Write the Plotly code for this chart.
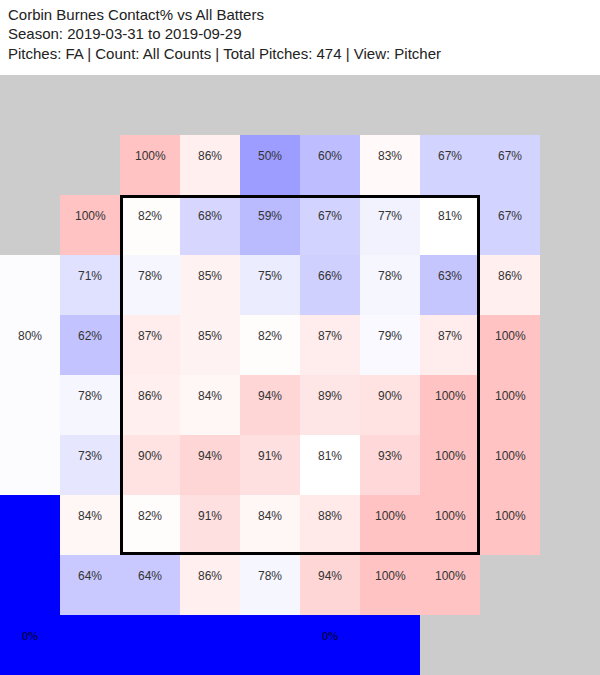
import plotly.graph_objects as go

title_lines = [
    "Corbin Burnes Contact% vs All Batters",
    "Season: 2019-03-31 to 2019-09-29",
    "Pitches: FA | Count: All Counts | Total Pitches: 474 | View: Pitcher",
]

# Zone grid: rows top->bottom, columns left->right (pitcher view); None = no data
N = None
zone_values = [
    [N, N, N, N, N, N, N, N, N, N],
    [N, N, 100, 86, 50, 60, 83, 67, 67, N],
    [N, 100, 82, 68, 59, 67, 77, 81, 67, N],
    [N, 71, 78, 85, 75, 66, 78, 63, 86, N],
    [N, 62, 87, 85, 82, 87, 79, 87, 100, N],
    [N, 78, 86, 84, 94, 89, 90, 100, 100, N],
    [N, 73, 90, 94, 91, 81, 93, 100, 100, N],
    [N, 84, 82, 91, 84, 88, 100, 100, 100, N],
    [N, 64, 64, 86, 78, 94, 100, 100, N, N],
    [N, N, N, N, N, N, N, N, N, N],
]

# Outer (out-of-zone) regions: value, cells covered, label cell
outer_regions = [
    {"value": 80, "cells": [(3, 0), (4, 0), (5, 0), (6, 0)], "label_cell": (4, 0)},
    {"value": 0, "cells": [(7, 0), (8, 0), (9, 0)], "label_cell": (9, 0)},
    {"value": 0, "cells": [(9, 1), (9, 2), (9, 3), (9, 4), (9, 5), (9, 6)], "label_cell": (9, 5)},
]

league_avg = 81.0

n_rows = len(zone_values)
n_cols = len(zone_values[0])

z = [row[:] for row in zone_values]
for reg in outer_regions:
    for (r, c) in reg["cells"]:
        z[r][c] = reg["value"]

xs = [c + 0.5 for c in range(n_cols)]
ys = [r + 0.5 for r in range(n_rows)]

fig = go.Figure()
fig.add_trace(go.Heatmap(
    z=z, x=xs, y=ys,
    zmin=0, zmax=2 * league_avg,
    colorscale=[[0, "rgb(0,0,255)"], [0.5, "rgb(255,255,255)"], [1, "rgb(255,0,0)"]],
    showscale=False, hoverinfo="skip", xgap=0, ygap=0,
))

annotations = []
for r in range(n_rows):
    for c in range(n_cols):
        v = zone_values[r][c]
        if v is None:
            continue
        annotations.append(dict(
            x=c + 0.5, y=r + 0.5, xref="x", yref="y", text=f"{v}%",
            showarrow=False, yshift=9,
            font=dict(family="Liberation Sans, Arial", size=12, color="#333"),
        ))
for reg in outer_regions:
    r, c = reg["label_cell"]
    serif = reg["value"] == 0
    annotations.append(dict(
        x=c + 0.5, y=r + 0.5, xref="x", yref="y", text=f"{reg['value']}%",
        showarrow=False, yshift=9,
        font=dict(family="Liberation Serif, Times New Roman" if serif else "Liberation Sans, Arial",
                  size=12, color="#000" if serif else "#333"),
    ))

plot_top = 75
plot_h = 600
for i, line in enumerate(title_lines):
    py = 15 + 19 * i
    annotations.append(dict(
        x=0, xref="paper", xshift=6, xanchor="left",
        y=1 + (plot_top - py) / plot_h, yref="paper", yanchor="middle",
        text=line, showarrow=False,
        font=dict(family="Liberation Sans, Arial", size=15, color="#222"),
    ))

# Strike zone box
fig.add_shape(type="rect", x0=2.025, x1=7.975, y0=2.025, y1=7.975,
              xref="x", yref="y", line=dict(color="black", width=3))

fig.update_layout(
    width=600, height=675,
    margin=dict(l=0, r=0, t=plot_top, b=0),
    paper_bgcolor="white", plot_bgcolor="#cccccc",
    annotations=annotations,
    xaxis=dict(range=[0, n_cols], visible=False, fixedrange=True),
    yaxis=dict(range=[n_rows, 0], visible=False, fixedrange=True),
    showlegend=False,
)

fig.write_html("out.html", config={"displayModeBar": False},
               post_script="document.body.style.margin='0';document.body.style.padding='0';")
